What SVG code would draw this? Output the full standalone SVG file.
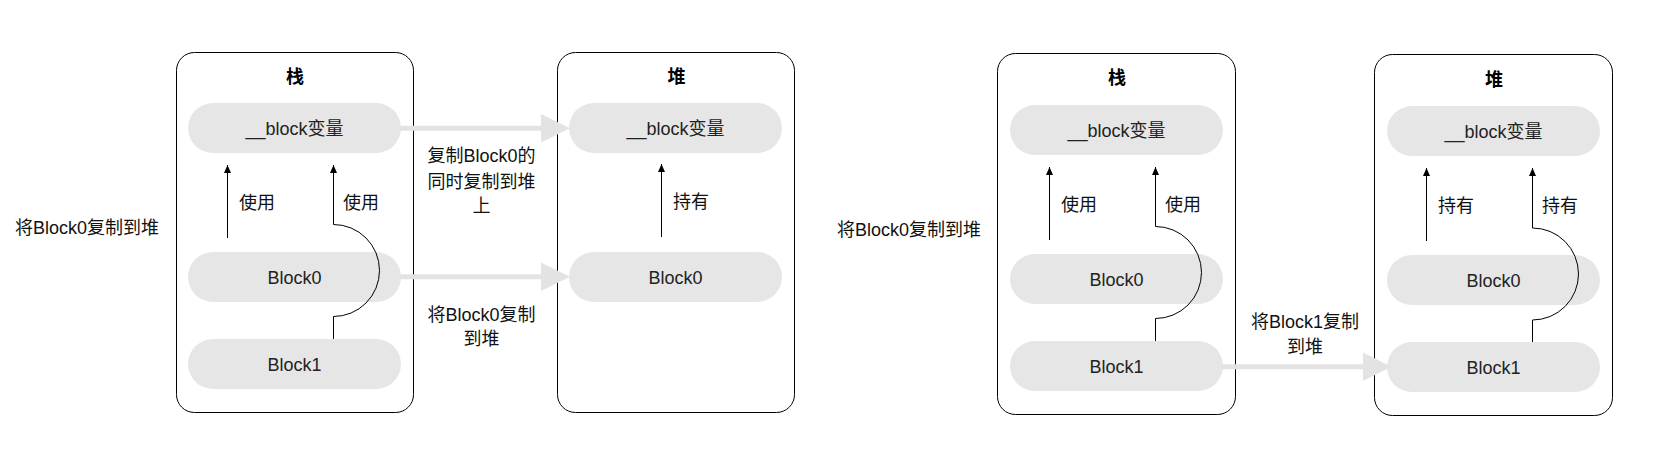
<svg xmlns="http://www.w3.org/2000/svg" width="1667" height="462" viewBox="0 0 1667 462">
<defs>
<marker id="ah" markerUnits="userSpaceOnUse" markerWidth="9" markerHeight="8" refX="8" refY="3.5" orient="auto">
<path d="M0,0 L8,3.5 L0,7 Z" fill="#000"/>
</marker>
</defs>
<style>
.box{fill:#fff;stroke:#000;stroke-width:1}
.pill{fill:#e6e6e6;stroke:none}
.t{font-family:"Liberation Sans","Noto Sans CJK SC",sans-serif;font-size:18px;fill:#222;text-anchor:middle}
.title{font-family:"Liberation Sans","Noto Sans CJK SC",sans-serif;font-size:18px;font-weight:bold;fill:#000;text-anchor:middle}
.lbl{font-family:"Liberation Sans","Noto Sans CJK SC",sans-serif;font-size:18px;fill:#111;text-anchor:middle}
.ln{fill:none;stroke:#000;stroke-width:1;marker-end:url(#ah)}
.big{stroke:#e3e3e3;stroke-width:5;fill:none}
.bigh{fill:#e3e3e3}
</style>
<rect width="1667" height="462" fill="#fff"/>

<g id="stack1">
<rect class="box" x="176.5" y="52.5" width="237" height="360" rx="18"/>
<text class="title" x="295" y="83">栈</text>
</g>
<g id="stack1-var"><rect class="pill" x="188" y="103" width="213" height="50" rx="25"/><text class="t" x="294.5" y="134.5">__block变量</text></g>
<g id="stack1-block0"><rect class="pill" x="188" y="252" width="213" height="50" rx="25"/><text class="t" x="294.5" y="283.5">Block0</text></g>
<g id="stack1-block1"><rect class="pill" x="188" y="339" width="213" height="50" rx="25"/><text class="t" x="294.5" y="370.5">Block1</text></g>

<g id="heap1">
<rect class="box" x="557.5" y="52.5" width="237" height="360" rx="18"/>
<text class="title" x="676.5" y="82.5">堆</text>
</g>
<g id="heap1-var"><rect class="pill" x="569" y="103" width="213" height="50" rx="25"/><text class="t" x="675.5" y="134.5">__block变量</text></g>
<g id="heap1-block0"><rect class="pill" x="569" y="252" width="213" height="50" rx="25"/><text class="t" x="675.5" y="283.5">Block0</text></g>

<g id="stack2">
<rect class="box" x="997.5" y="53.5" width="238" height="361" rx="18"/>
<text class="title" x="1117" y="84">栈</text>
</g>
<g id="stack2-var"><rect class="pill" x="1010" y="105" width="213" height="50" rx="25"/><text class="t" x="1116.5" y="136.5">__block变量</text></g>
<g id="stack2-block0"><rect class="pill" x="1010" y="254" width="213" height="50" rx="25"/><text class="t" x="1116.5" y="285.5">Block0</text></g>
<g id="stack2-block1"><rect class="pill" x="1010" y="341" width="213" height="50" rx="25"/><text class="t" x="1116.5" y="372.5">Block1</text></g>

<g id="heap2">
<rect class="box" x="1374.5" y="54.5" width="238" height="361" rx="18"/>
<text class="title" x="1494" y="85.5">堆</text>
</g>
<g id="heap2-var"><rect class="pill" x="1387" y="106" width="213" height="50" rx="25"/><text class="t" x="1493.5" y="137.5">__block变量</text></g>
<g id="heap2-block0"><rect class="pill" x="1387" y="255" width="213" height="50" rx="25"/><text class="t" x="1493.5" y="286.5">Block0</text></g>
<g id="heap2-block1"><rect class="pill" x="1387" y="342" width="213" height="50" rx="25"/><text class="t" x="1493.5" y="373.5">Block1</text></g>

<g id="connectors">
<path class="ln" d="M227.5,238 V165"/>
<path class="ln" d="M333.5,339 V316.5 A46 46 0 0 0 333.5,224.5 V165"/>
<path class="ln" d="M661.5,237 V164"/>
<path class="ln" d="M1049.5,240 V167"/>
<path class="ln" d="M1155.5,341 V318.5 A46 46 0 0 0 1155.5,226.5 V167"/>
<path class="ln" d="M1426.5,241 V168"/>
<path class="ln" d="M1532.5,342 V320 A46 46 0 0 0 1532.5,228 V168"/>

<path class="big" d="M400,128.3 H542"/>
<polygon class="bigh" points="541,114 570,128.3 541,142.6"/>
<path class="big" d="M400,276.7 H542"/>
<polygon class="bigh" points="541,262.5 570,276.7 541,291"/>
<path class="big" d="M1222,366.7 H1364"/>
<polygon class="bigh" points="1363,352.5 1391.5,366.7 1363,381"/>

<text class="lbl" x="257" y="208.5">使用</text>
<text class="lbl" x="361" y="208.5">使用</text>
<text class="lbl" x="691" y="207.5">持有</text>
<text class="lbl" x="1079" y="210.5">使用</text>
<text class="lbl" x="1183" y="210.5">使用</text>
<text class="lbl" x="1456" y="211.5">持有</text>
<text class="lbl" x="1560" y="211.5">持有</text>

<text class="lbl" x="481.5" y="162">复制Block0的</text>
<text class="lbl" x="481.5" y="187.5">同时复制到堆</text>
<text class="lbl" x="481.5" y="212">上</text>
<text class="lbl" x="481.5" y="320.5">将Block0复制</text>
<text class="lbl" x="481.5" y="345">到堆</text>
<text class="lbl" x="1305" y="328">将Block1复制</text>
<text class="lbl" x="1305" y="352.5">到堆</text>
</g>

<text class="lbl" x="87" y="234">将Block0复制到堆</text>
<text class="lbl" x="909" y="235.5">将Block0复制到堆</text>
</svg>
